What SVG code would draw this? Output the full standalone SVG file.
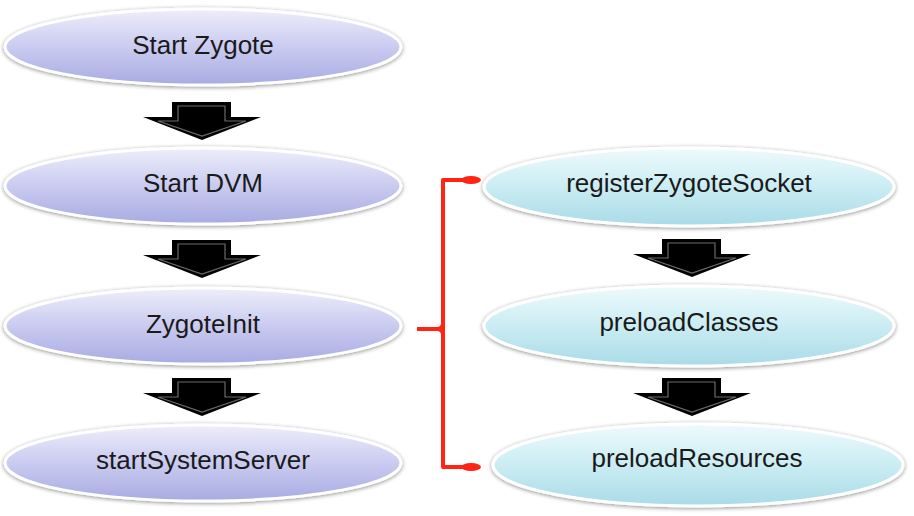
<svg xmlns="http://www.w3.org/2000/svg" xmlns:xlink="http://www.w3.org/1999/xlink" width="914" height="516" viewBox="0 0 914 516">
<defs>
<linearGradient id="gP" x1="0" y1="0" x2="0" y2="1">
<stop offset="0" stop-color="#eeeefa"/>
<stop offset="0.45" stop-color="#cdcef1"/>
<stop offset="1" stop-color="#a8abe2"/>
</linearGradient>
<linearGradient id="gC" x1="0" y1="0" x2="0" y2="1">
<stop offset="0" stop-color="#eefafc"/>
<stop offset="0.45" stop-color="#ceeef4"/>
<stop offset="1" stop-color="#a9dbe7"/>
</linearGradient>
<filter id="sh" x="-10%" y="-30%" width="120%" height="160%">
<feGaussianBlur in="SourceAlpha" stdDeviation="2"/>
<feOffset dx="0" dy="1" result="b"/>
<feComponentTransfer><feFuncA type="linear" slope="0.45"/></feComponentTransfer>
<feMerge><feMergeNode/><feMergeNode in="SourceGraphic"/></feMerge>
</filter>
<g id="arrow">
<path d="M-30,0 H29 V15 H59 L0,38 L-59,15 H-30 Z" fill="#000"/>
<path d="M-24,4 H23 V19 H44 L0,34 L-44,19 H-24 Z" fill="none" stroke="#6a6a6a" stroke-width="1.2"/>
</g>
</defs>
<style>
.np{fill:url(#gP);stroke:#fff;stroke-width:3;filter:url(#sh)}
.nc{fill:url(#gC);stroke:#fff;stroke-width:3;filter:url(#sh)}
.t{font-family:"Liberation Sans",Arial,sans-serif;font-size:26px;fill:#1a1a1a;text-anchor:middle;dominant-baseline:central}
.br{fill:none;stroke:#ff2414;stroke-width:4;stroke-linejoin:round}
</style>
<rect width="914" height="516" fill="#fff"/>

<g id="n1"><ellipse class="np" cx="203" cy="47" rx="198" ry="38"/><text class="t" x="203" y="45">Start Zygote</text></g>
<g id="n2"><ellipse class="np" cx="203" cy="186" rx="198" ry="38"/><text class="t" x="203" y="183">Start DVM</text></g>
<g id="n3"><ellipse class="np" cx="203" cy="326" rx="198" ry="38"/><text class="t" x="203" y="324">ZygoteInit</text></g>
<g id="n4"><ellipse class="np" cx="203" cy="463" rx="198" ry="38"/><text class="t" x="203" y="460">startSystemServer</text></g>

<g id="n5"><ellipse class="nc" cx="689" cy="187" rx="205" ry="39"/><text class="t" x="689" y="183">registerZygoteSocket</text></g>
<g id="n6"><ellipse class="nc" cx="689" cy="326" rx="205" ry="40"/><text class="t" x="689" y="322">preloadClasses</text></g>
<g id="n7"><ellipse class="nc" cx="698" cy="465" rx="205" ry="41"/><text class="t" x="697" y="458">preloadResources</text></g>

<g id="connectors">
<use xlink:href="#arrow" transform="translate(202,102)"/>
<use xlink:href="#arrow" transform="translate(202,240)"/>
<use xlink:href="#arrow" transform="translate(202,378)"/>
<use xlink:href="#arrow" transform="translate(692,239)"/>
<use xlink:href="#arrow" transform="translate(692,378)"/>
<path class="br" d="M476,180 H443 V467 H476"/>
<path class="br" d="M417,329 H437 Q443,329 443,323 M437,329 Q443,329 443,335"/>
<ellipse cx="471" cy="180" rx="10" ry="4" fill="#ff2414"/>
<ellipse cx="471" cy="467" rx="10" ry="4" fill="#ff2414"/>
</g>
</svg>
